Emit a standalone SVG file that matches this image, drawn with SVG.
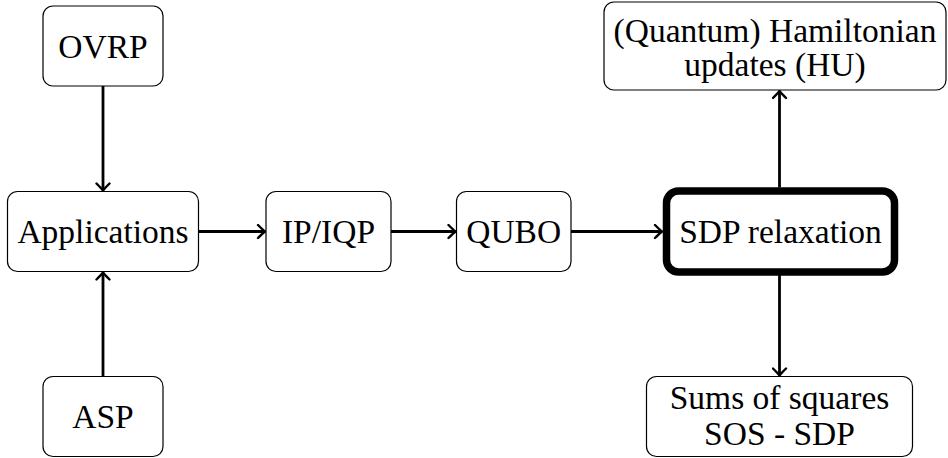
<svg xmlns="http://www.w3.org/2000/svg" width="948" height="458" viewBox="0 0 948 458">
<style>
.box{fill:#fff;stroke:#000;stroke-width:1.2}
.thick{fill:#fff;stroke:#000;stroke-width:7.5}
.lbl{font-family:"Liberation Serif","DejaVu Serif",serif;font-size:33.5px;fill:#000;text-anchor:middle}
.edge{stroke:#000;stroke-width:2.8;fill:none;marker-end:url(#arr)}
</style>
<defs>
<marker id="arr" markerUnits="userSpaceOnUse" markerWidth="16" markerHeight="16" refX="0" refY="0" viewBox="-12 -8 16 16" orient="auto">
<path d="M-7,-6.5 Q-2,-1.5 0,0 Q-2,1.5 -7,6.5" fill="none" stroke="#000" stroke-width="2.4" stroke-linecap="round"/>
</marker>
</defs>
<g id="connectors">
<line class="edge" x1="103" y1="86" x2="103" y2="190.5"/>
<line class="edge" x1="103" y1="376.5" x2="103" y2="272.5"/>
<line class="edge" x1="198.5" y1="231.5" x2="265" y2="231.5"/>
<line class="edge" x1="391" y1="231.5" x2="455.5" y2="231.5"/>
<line class="edge" x1="571" y1="231.5" x2="662" y2="231.5"/>
<line class="edge" x1="779.5" y1="187.5" x2="779.5" y2="91"/>
<line class="edge" x1="779.5" y1="275" x2="779.5" y2="375.5"/>
</g>
<g id="ovrp"><rect class="box" x="43" y="6" width="120" height="80" rx="10"/><text class="lbl" x="103" y="57.5">OVRP</text></g>
<g id="applications"><rect class="box" x="7.5" y="191.5" width="191" height="80" rx="10"/><text class="lbl" x="103" y="243">Applications</text></g>
<g id="asp"><rect class="box" x="43" y="376.5" width="120" height="80" rx="10"/><text class="lbl" x="103" y="428">ASP</text></g>
<g id="ipiqp"><rect class="box" x="266" y="191.5" width="125" height="80" rx="10"/><text class="lbl" x="328.5" y="243">IP/IQP</text></g>
<g id="qubo"><rect class="box" x="456.5" y="191.5" width="114.5" height="80" rx="10"/><text class="lbl" x="513.7" y="243">QUBO</text></g>
<g id="sdp"><rect class="thick" x="666.5" y="191" width="228" height="81" rx="12"/><text class="lbl" x="780.5" y="243">SDP relaxation</text></g>
<g id="hu"><rect class="box" x="604" y="2" width="342" height="88" rx="10"/><text class="lbl" x="775" y="42">(Quantum) Hamiltonian</text><text class="lbl" x="775" y="76">updates (HU)</text></g>
<g id="sos"><rect class="box" x="646.5" y="376.5" width="266" height="80" rx="10"/><text class="lbl" x="779.5" y="409">Sums of squares</text><text class="lbl" x="779.5" y="445">SOS - SDP</text></g>
</svg>
